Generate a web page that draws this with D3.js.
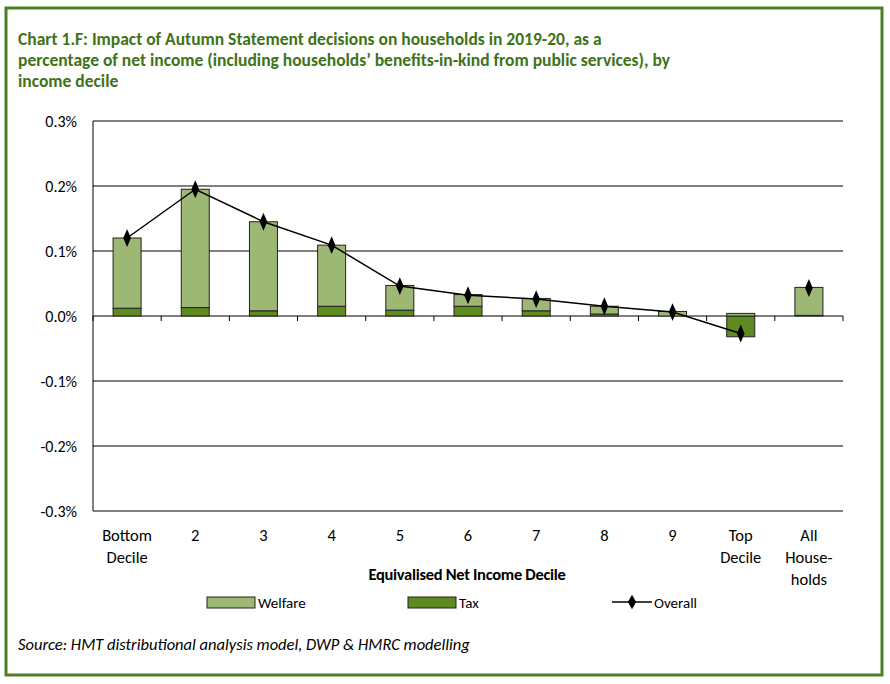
<!DOCTYPE html>
<html><head><meta charset="utf-8">
<script src="https://cdn.jsdelivr.net/npm/d3@7"></script>
<style>body{margin:0;background:#fff;font-family:Calibri,"Liberation Sans",Carlito,sans-serif}</style>
</head><body><svg id="c" width="890" height="684"></svg>
<script>
var categories = ['Bottom\nDecile','2','3','4','5','6','7','8','9','Top\nDecile','All\nHouse-\nholds'];
var welfare = [0.108, 0.182, 0.137, 0.094, 0.038, 0.018, 0.019, 0.012, 0.007, 0.004, 0.043];
var tax = [0.012, 0.013, 0.008, 0.015, 0.009, 0.015, 0.008, 0.003, 0, -0.032, 0.001];
var overall = [0.120, 0.195, 0.145, 0.109, 0.046, 0.032, 0.026, 0.015, 0.006, -0.027, 0.043];
var yTicks = [-0.3,-0.2,-0.1,0,0.1,0.2,0.3];

var svg = d3.select('#c');
svg.append('rect').attr('x',6).attr('y',8).attr('width',876).attr('height',667)
  .attr('fill','none').attr('stroke','#4f7f24').attr('stroke-width',3);
var title = ['Chart 1.F: Impact of Autumn Statement decisions on households in 2019-20, as a',
  'percentage of net income (including households\u2019 benefits-in-kind from public services), by',
  'income decile'];
svg.append('text').attr('font-weight','bold').attr('font-size',17.5).attr('fill','#3f7317')
  .selectAll('tspan').data(title).enter().append('tspan')
  .attr('x',18).attr('y',function(d,i){return 45+i*21;}).text(function(d){return d;});

var x = d3.scaleBand().domain(d3.range(categories.length)).range([93,843]);
var y = d3.scaleLinear().domain([-0.3,0.3]).range([511,121]);
var g = svg.append('g');
g.selectAll('line.grid').data(yTicks).enter().append('line')
  .attr('x1',93).attr('x2',843).attr('y1',function(d){return y(d);}).attr('y2',function(d){return y(d);})
  .attr('stroke','#000').attr('stroke-width',1);
g.selectAll('text.yl').data(yTicks).enter().append('text')
  .attr('x',77).attr('y',function(d){return y(d)+6;}).attr('text-anchor','end').attr('font-size',16)
  .text(function(d){return d.toFixed(1)+'%';});
g.append('line').attr('x1',93).attr('x2',93).attr('y1',121).attr('y2',511).attr('stroke','#000');
// category ticks
g.selectAll('line.tk').data(d3.range(categories.length+1)).enter().append('line')
  .attr('x1',function(i){return 93+i*x.step();}).attr('x2',function(i){return 93+i*x.step();})
  .attr('y1',y(0)).attr('y2',y(0)+5).attr('stroke','#000');
var bw = 28;
function cx(i){return x(i)+x.bandwidth()/2;}
// tax bars (from 0)
g.selectAll('rect.tax').data(tax).enter().append('rect')
  .attr('x',function(d,i){return cx(i)-bw/2;}).attr('width',bw)
  .attr('y',function(d){return y(Math.max(d,0));}).attr('height',function(d){return Math.abs(y(d)-y(0));})
  .attr('fill','#5e8a1f').attr('stroke','#222').attr('stroke-width',1);
// welfare bars stacked on positive tax
g.selectAll('rect.wel').data(welfare).enter().append('rect')
  .attr('x',function(d,i){return cx(i)-bw/2;}).attr('width',bw)
  .attr('y',function(d,i){return y(d+Math.max(tax[i],0));})
  .attr('height',function(d){return y(0)-y(d);})
  .attr('fill','#9cb874').attr('stroke','#222').attr('stroke-width',1);
var line = d3.line().x(function(d,i){return cx(i);}).y(function(d){return y(d);});
g.append('path').datum(overall.slice(0,10)).attr('d',line)
  .attr('fill','none').attr('stroke','#000').attr('stroke-width',1.5);
g.selectAll('path.pt').data(overall).enter().append('path')
  .attr('d',d3.symbol().type(d3.symbolDiamond).size(70))
  .attr('transform',function(d,i){return 'translate('+cx(i)+','+y(d)+') scale(0.85,1.15)';}).attr('fill','#000');
// x labels
categories.forEach(function(c,i){
  var t = g.append('text').attr('text-anchor','middle').attr('font-size',16.5);
  c.split('\n').forEach(function(s,j){
    t.append('tspan').attr('x',cx(i)).attr('y',541+j*22).text(s);
  });
});
svg.append('text').attr('x',467).attr('y',580).attr('text-anchor','middle').attr('font-weight','bold')
  .attr('font-size',16.5).attr('letter-spacing',-0.3).text('Equivalised Net Income Decile');
// legend
var leg = [{t:'Welfare',c:'#9cb874',x:207},{t:'Tax',c:'#5e8a1f',x:408}];
leg.forEach(function(l){
  svg.append('rect').attr('x',l.x).attr('y',597).attr('width',48).attr('height',11).attr('fill',l.c).attr('stroke','#222');
  svg.append('text').attr('x',l.x+51).attr('y',608).attr('font-size',15).text(l.t);
});
svg.append('line').attr('x1',612).attr('x2',652).attr('y1',602).attr('y2',602).attr('stroke','#000').attr('stroke-width',1.5);
svg.append('path').attr('d',d3.symbol().type(d3.symbolDiamond).size(60)).attr('transform','translate(632,602)');
svg.append('text').attr('x',654).attr('y',608).attr('font-size',15).text('Overall');
svg.append('text').attr('x',18).attr('y',650).attr('font-style','italic').attr('font-size',16.5)
  .text('Source: HMT distributional analysis model, DWP & HMRC modelling');
</script></body></html>
